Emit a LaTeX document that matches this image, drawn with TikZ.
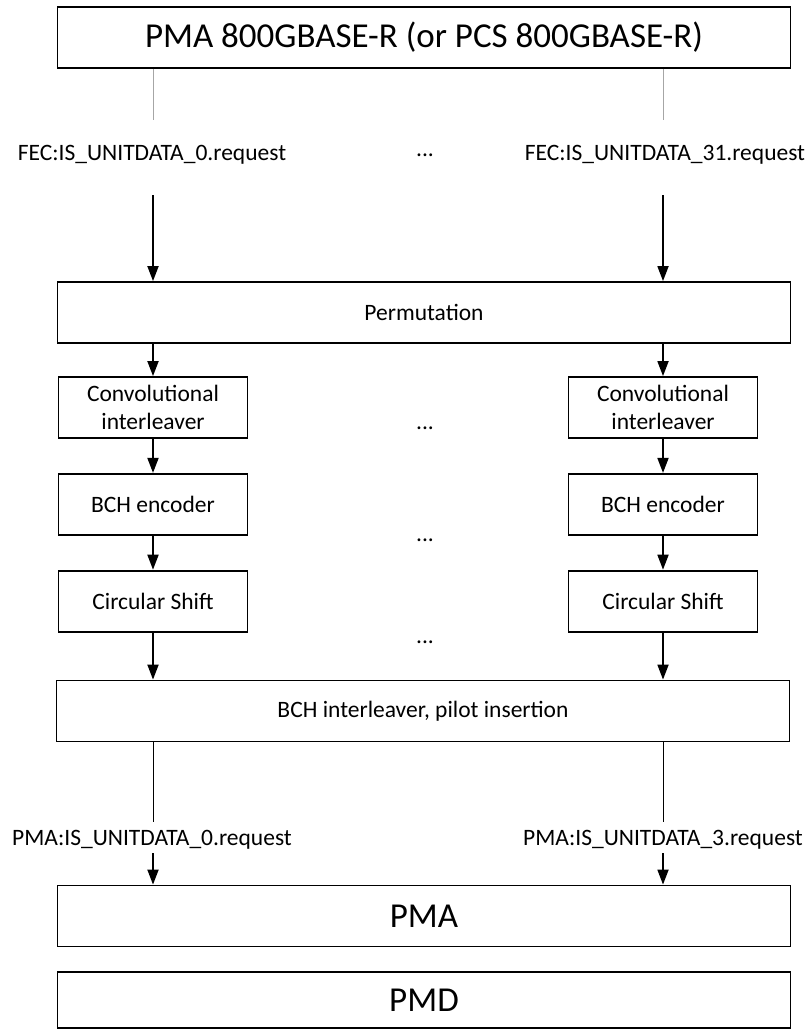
\documentclass[tikz,border=0pt]{standalone}
\usepackage{fontspec}
\setmainfont{Carlito}
\usetikzlibrary{arrows.meta,positioning}

\begin{document}
\begin{tikzpicture}[x=1pt,y=-1pt,>={Triangle[width=11pt,length=15pt]},
    every node/.style={font=\fontsize{23.5}{28}\selectfont},
    layer/.style={draw,line width=1.8pt,minimum width=733pt,minimum height=61pt,inner sep=0pt},
    big/.style={font=\fontsize{35}{40}\selectfont},
    stage/.style={draw,line width=1.8pt,minimum width=189pt,minimum height=61pt,inner sep=0pt,align=center},
    flow/.style={->,line width=1.8pt},
    tap/.style={line width=0.6pt}]
    \useasboundingbox (0,0) rectangle (810,1030);
    % upper layer and its service interface
    \node[layer,big] (upper) at (424,37.5) {PMA 800GBASE-R (or PCS 800GBASE-R)};
    \node (fec0) at (152,155) {FEC:IS\_UNITDATA\_0.request};
    \node (fec31) at (665,155) {FEC:IS\_UNITDATA\_31.request};
    \node (fecdots) at (425,155) {...};
    \coordinate (fectap0) at (153,120);
    \coordinate (fectap31) at (663,120);
    \coordinate (fecin0) at (153,195);
    \coordinate (fecin31) at (663,195);
    \node[layer] (perm) at (424,312.5) {Permutation};
    % lane 0
    \node[stage] (conv0) at (153,407.5) {Convolutional\\interleaver};
    \node[stage,below=34pt of conv0] (bch0) {BCH encoder};
    \node[stage,below=34pt of bch0] (shift0) {Circular Shift};
    % lane 31
    \node[stage] (conv31) at (663,407.5) {Convolutional\\interleaver};
    \node[stage,below=34pt of conv31] (bch31) {BCH encoder};
    \node[stage,below=34pt of bch31] (shift31) {Circular Shift};
    \node (convdots) at (425,428) {...};
    \node (bchdots) at (425,540) {...};
    \node (shiftdots) at (425,642) {...};
    \node[layer] (inter) at (423,711) {BCH interleaver, pilot insertion};
    % lower interface
    \coordinate (pmatap0) at (153,822);
    \coordinate (pmatap3) at (663,822);
    \node (pmareq0) at (152,840) {PMA:IS\_UNITDATA\_0.request};
    \node (pmareq3) at (663,840) {PMA:IS\_UNITDATA\_3.request};
    \coordinate (pmain0) at (153,853);
    \coordinate (pmain3) at (663,853);
    \node[layer,big] (pma) at (424,916) {PMA};
    \node[layer,big,minimum height=56pt] (pmd) at (424,1000) {PMD};
    % connectors
    \draw[tap,gray!70] (upper.south -| fectap0)--(fectap0);
    \draw[tap,gray!70] (upper.south -| fectap31)--(fectap31);
    \draw[flow] (fecin0)--(fecin0 |- perm.north);
    \draw[flow] (fecin31)--(fecin31 |- perm.north);
    \draw[flow] (perm.south -| conv0)--(conv0);
    \draw[flow] (perm.south -| conv31)--(conv31);
    \draw[flow] (conv0)--(bch0);
    \draw[flow] (conv31)--(bch31);
    \draw[flow] (bch0)--(shift0);
    \draw[flow] (bch31)--(shift31);
    \draw[flow] (shift0)--(shift0 |- inter.north);
    \draw[flow] (shift31)--(shift31 |- inter.north);
    \draw[tap] (inter.south -| pmatap0)--(pmatap0);
    \draw[tap] (inter.south -| pmatap3)--(pmatap3);
    \draw[flow] (pmain0)--(pmain0 |- pma.north);
    \draw[flow] (pmain3)--(pmain3 |- pma.north);
\end{tikzpicture}
\end{document}
